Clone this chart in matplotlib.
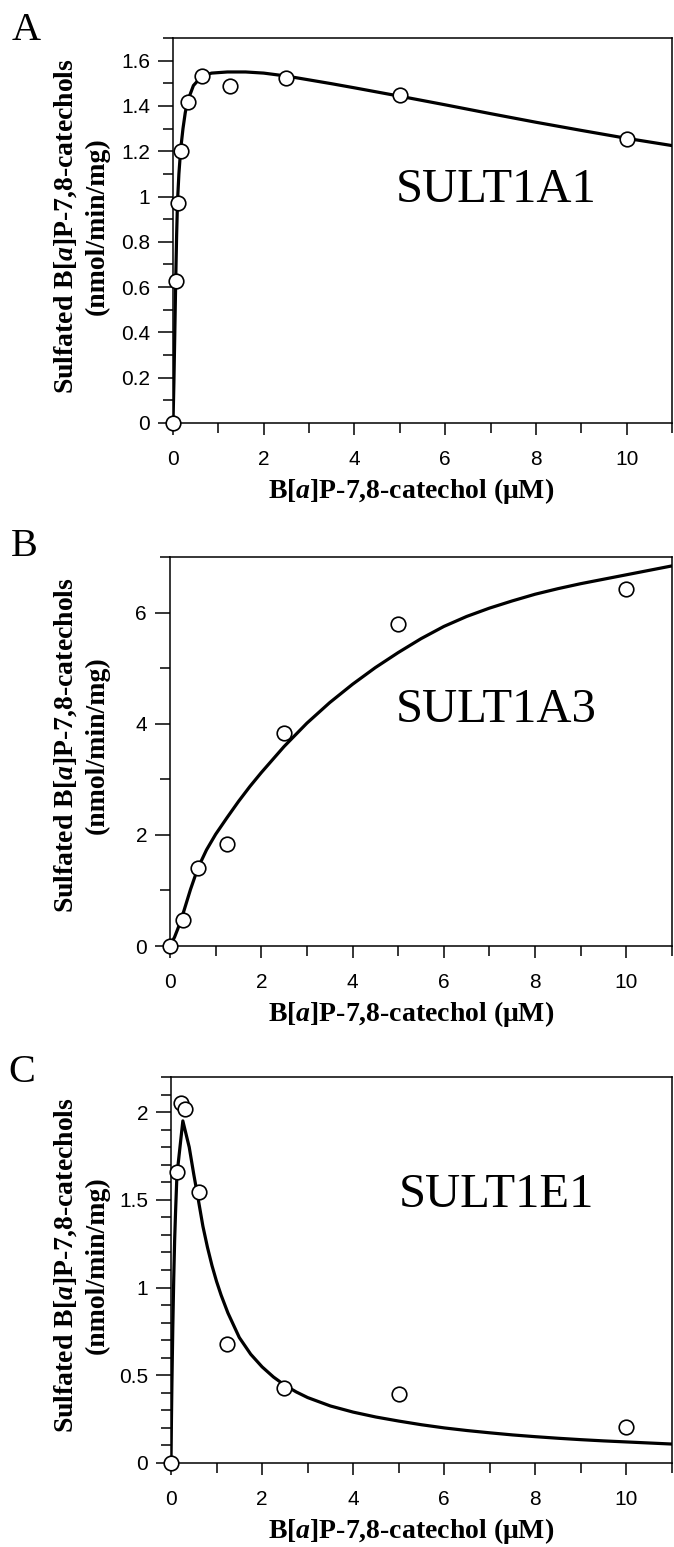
import matplotlib
matplotlib.use("Agg")
import matplotlib.pyplot as plt
from matplotlib.ticker import MultipleLocator, FuncFormatter

plt.rcParams["mathtext.fontset"] = "custom"
plt.rcParams["mathtext.it"] = "Liberation Serif:italic:bold"
plt.rcParams["mathtext.rm"] = "Liberation Serif:bold"
plt.rcParams["mathtext.bf"] = "Liberation Serif:bold"

# Measured points (x = B[a]P-7,8-catechol uM, y = nmol/min/mg)
A_x = [0, 0.06, 0.1, 0.17, 0.32, 0.63, 1.25, 2.5, 5, 10]
A_y = [0, 0.628, 0.973, 1.202, 1.418, 1.534, 1.49, 1.522, 1.449, 1.255]
B_x = [0, 0.28, 0.62, 1.25, 2.5, 5, 10]
B_y = [0, 0.46, 1.41, 1.84, 3.84, 5.80, 6.43]
C_x = [0, 0.14, 0.22, 0.30, 0.62, 1.235, 2.49, 5, 10]
C_y = [0, 1.66, 2.05, 2.015, 1.545, 0.68, 0.425, 0.393, 0.203]

# Fitted curves
A_fit_x = [0, 0.02, 0.04, 0.06, 0.08, 0.1, 0.13, 0.17, 0.22, 0.27, 0.32, 0.45, 0.63, 0.85,
           1.2, 1.6, 2.0, 2.5, 3, 3.5, 4, 5, 6, 7, 8, 9, 10, 11]
A_fit_y = [0, 0.18, 0.40, 0.63, 0.83, 0.98, 1.10, 1.21, 1.30, 1.37, 1.42, 1.49, 1.53, 1.545,
           1.55, 1.55, 1.545, 1.532, 1.515, 1.498, 1.48, 1.443, 1.405, 1.366, 1.328, 1.292, 1.257, 1.225]
B_fit_x = [0, 0.1, 0.2, 0.3, 0.45, 0.61, 0.8, 1.0, 1.25, 1.5, 1.75, 2.0, 2.5, 3.0, 3.5, 4.0,
           4.5, 5.0, 5.5, 6.0, 6.5, 7.0, 7.5, 8.0, 8.5, 9.0, 9.5, 10.0, 10.5, 11.0]
B_fit_y = [0, 0.16, 0.37, 0.62, 1.02, 1.40, 1.73, 2.01, 2.31, 2.60, 2.87, 3.12, 3.59, 4.01,
           4.38, 4.71, 5.01, 5.28, 5.53, 5.75, 5.93, 6.08, 6.21, 6.33, 6.43, 6.52, 6.60, 6.68,
           6.76, 6.84]
C_fit_x = [0, 0.01, 0.02, 0.04, 0.06, 0.08, 0.1, 0.13, 0.26, 0.4, 0.5, 0.6, 0.7, 0.8, 0.9,
           1.0, 1.1, 1.25, 1.5, 1.75, 2.0, 2.25, 2.5, 2.75, 3.0, 3.5, 4.0, 4.5, 5.0, 5.5, 6.0,
           6.5, 7.0, 7.5, 8.0, 8.5, 9.0, 9.5, 10.0, 10.5, 11.0]
C_fit_y = [0, 0.25, 0.45, 0.78, 1.05, 1.27, 1.43, 1.64, 1.95, 1.80, 1.645, 1.50, 1.35, 1.23,
           1.125, 1.035, 0.957, 0.855, 0.715, 0.62, 0.548, 0.49, 0.443, 0.405, 0.373, 0.325,
           0.29, 0.262, 0.239, 0.218, 0.2, 0.185, 0.172, 0.16, 0.15, 0.141, 0.133, 0.126,
           0.12, 0.114, 0.108]

PANELS = ["A", "B", "C"]
ENZYMES = ["SULT1A1", "SULT1A3", "SULT1E1"]

W, H = 674, 1547
SERIF = "Liberation Serif"
SANS = "Liberation Sans"

YLABEL = "Sulfated B[$\\mathit{a}$]P-7,8-catechols\n(nmol/min/mg)"
XLABEL = "B[$\\mathit{a}$]P-7,8-catechol (\u03bcM)"

fig = plt.figure(figsize=(W / 100, H / 100), dpi=100)

# axes boxes in pixels: left, right, top, bottom
boxes = [(173, 672, 38, 423), (170, 672, 557, 946), (171, 672, 1077, 1463)]
ylims = [1.7, 7.0, 2.2]
ymajor = [0.2, 2, 0.5]
yminor = [0.1, 1, 0.1]
name_y = [0.574, 0.576, 0.663]
letter_pos = [(26, 31), (24, 546), (22, 1073)]
ylab_y = [226, 745, 1265]

data = [(A_x, A_y, A_fit_x, A_fit_y), (B_x, B_y, B_fit_x, B_fit_y), (C_x, C_y, C_fit_x, C_fit_y)]

for i, (px, py, fx, fy) in enumerate(data):
    l, r, t, b = boxes[i]
    ax = fig.add_axes([l / W, 1 - b / H, (r - l) / W, (b - t) / H])

    ax.plot(fx, fy, color="black", linewidth=2.3, zorder=3, solid_joinstyle="round")
    ax.plot(px, py, linestyle="none", marker="o", markersize=10.5,
            markerfacecolor="white", markeredgecolor="black", markeredgewidth=1.2,
            clip_on=False, zorder=5)

    ax.set_xlim(0, 11)
    ax.set_ylim(0, ylims[i])
    ax.xaxis.set_major_locator(MultipleLocator(2))
    ax.xaxis.set_minor_locator(MultipleLocator(1))
    ax.yaxis.set_major_locator(MultipleLocator(ymajor[i]))
    ax.yaxis.set_minor_locator(MultipleLocator(yminor[i]))
    ax.yaxis.set_major_formatter(FuncFormatter(lambda v, p: f"{v:g}"))
    ax.xaxis.set_major_formatter(FuncFormatter(lambda v, p: f"{v:g}"))

    for s in ax.spines.values():
        s.set_linewidth(1.1)
    ax.tick_params(which="both", direction="out", width=1.1)
    ax.tick_params(axis="y", which="major", length=10.5, labelsize=15, pad=6)
    ax.tick_params(axis="y", which="minor", length=7)
    ax.tick_params(axis="x", which="major", length=8.6, labelsize=15, pad=11)
    ax.tick_params(axis="x", which="minor", length=7)
    for lab in ax.get_xticklabels() + ax.get_yticklabels():
        lab.set_fontfamily(SANS)

    ax.text((496 - l) / (r - l), name_y[i], ENZYMES[i], transform=ax.transAxes,
            ha="center", va="baseline", fontsize=35, family=SERIF)

    lx, ly = letter_pos[i]
    fig.text(lx / W, 1 - ly / H, PANELS[i], ha="center", va="center",
             fontsize=29, family=SERIF)

    fig.text(81 / W, 1 - ylab_y[i] / H, YLABEL, rotation=90, ha="center", va="center",
             fontsize=20, family=SERIF, fontweight="bold", linespacing=1.3)

    fig.text(411 / W, 1 - (b + 75) / H, XLABEL, ha="center", va="baseline",
             fontsize=20, family=SERIF, fontweight="bold")

fig.savefig("out.png", dpi=100)
